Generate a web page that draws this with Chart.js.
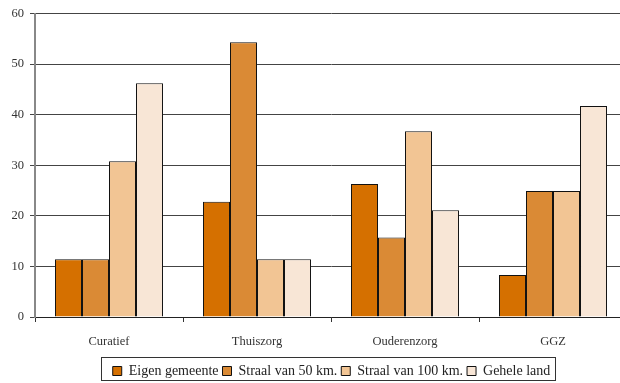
<!DOCTYPE html>
<html>
<head>
<meta charset="utf-8">
<script src="https://cdn.jsdelivr.net/npm/chart.js@4"></script>
<style>
  html, body { margin: 0; padding: 0; background: #fff; overflow: hidden; }
  #wrap { width: 620px; height: 383px; overflow: hidden; }
</style>
</head>
<body>
<div id="wrap"><canvas id="grafiek" width="656" height="388"></canvas></div>
<script>
const categorieen = ["Curatief", "Thuiszorg", "Ouderenzorg", "GGZ"];
const eigenGemeente = [11.4, 22.8, 26.3, 8.3];
const straal50 = [11.4, 54.3, 15.7, 24.9];
const straal100 = [30.8, 11.4, 36.7, 24.9];
const geheleLand = [46.2, 11.4, 21.1, 41.7];
const yTicks = [0, 10, 20, 30, 40, 50, 60];

const serif = "'Liberation Serif', 'DejaVu Serif', serif";
Chart.defaults.font.family = serif;

// legenda iets naar rechts schuiven, zoals in het origineel
const legendaVerschuiving = 18;
const legendaSchuif = {
    id: 'legendaSchuif',
    afterLayout(chart) {
        const l = chart.legend;
        l.left += legendaVerschuiving;
        l.right += legendaVerschuiving;
        (l.legendHitBoxes || []).forEach(b => { b.left += legendaVerschuiving; });
    }
};

// rand om de legenda (alleen rond de items)
const legendaRand = {
    id: 'legendaRand',
    afterDraw(chart) {
        const boxes = chart.legend.legendHitBoxes;
        if (!boxes || !boxes.length) return;
        const links = Math.min(...boxes.map(b => b.left)) - 12;
        const rechts = Math.max(...boxes.map(b => b.left + b.width)) + 4;
        const boven = Math.min(...boxes.map(b => b.top)) - 7;
        const onder = Math.max(...boxes.map(b => b.top + b.height)) + 2;
        const ctx = chart.ctx;
        ctx.save();
        ctx.strokeStyle = '#333';
        ctx.lineWidth = 1;
        ctx.strokeRect(Math.round(links) + 0.5, Math.round(boven) + 0.5, Math.round(rechts - links), Math.round(onder - boven));
        ctx.restore();
    }
};

new Chart(document.getElementById('grafiek'), {
    type: 'bar',
    data: {
        labels: categorieen,
        datasets: [
            { label: 'Eigen gemeente', data: eigenGemeente, backgroundColor: '#D57000' },
            { label: 'Straal van 50 km.', data: straal50, backgroundColor: '#DA8A35' },
            { label: 'Straal van 100 km.', data: straal100, backgroundColor: '#F2C594' },
            { label: 'Gehele land', data: geheleLand, backgroundColor: '#F8E6D6' }
        ].map(d => Object.assign(d, { borderColor: '#111', borderWidth: 1, categoryPercentage: 0.73, barPercentage: 1.0 }))
    },
    options: {
        responsive: false,
        animation: false,
        layout: { padding: { top: 12, right: 29, left: 0, bottom: 0 } },
        plugins: {
            tooltip: { enabled: false },
            legend: {
                position: 'bottom',
                labels: {
                    boxWidth: 9,
                    boxHeight: 9,
                    padding: 4,
                    color: '#222',
                    font: { family: serif, size: 14 }
                }
            }
        },
        scales: {
            x: {
                grid: { drawOnChartArea: false, color: '#333', tickLength: 5 },
                border: { color: '#222', width: 1 },
                ticks: { color: '#333', font: { family: serif, size: 12.5 }, padding: 12 },
                afterFit(s) { s.height = 43; }
            },
            y: {
                min: 0,
                max: 60,
                afterBuildTicks(s) { s.ticks = yTicks.map(v => ({ value: v })); },
                grid: { color: '#444', lineWidth: 1, tickLength: 5 },
                border: { color: '#888', width: 2 },
                ticks: { color: '#333', font: { family: serif, size: 12.5 }, padding: 6 },
                afterFit(s) { s.width = 35; }
            }
        }
    },
    plugins: [legendaSchuif, legendaRand]
});
</script>
</body>
</html>
